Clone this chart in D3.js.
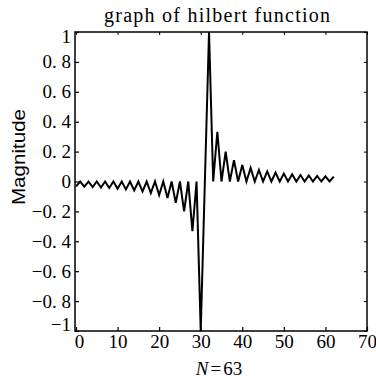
<!DOCTYPE html>
<html>
<head>
<meta charset="utf-8">
<script src="https://cdn.jsdelivr.net/npm/d3@7"></script>
<style>
  body { margin: 0; background: #fff; }
  svg { display: block; }
</style>
</head>
<body>
<svg id="chart" width="376" height="381"></svg>
<script>
// ---- data (sample index 0..62, N = 63) ----
const sampleIndex = d3.range(0, 63);
const magnitude = [
  -0.032, 0, -0.034, 0, -0.037, 0, -0.040, 0, -0.043, 0,
  -0.048, 0, -0.053, 0, -0.059, 0, -0.067, 0, -0.077, 0,
  -0.091, 0, -0.111, 0, -0.143, 0, -0.200, 0, -0.333, 0,
  -1.000, 0, 1.000, 0, 0.333, 0, 0.200, 0, 0.143, 0,
  0.111, 0, 0.091, 0, 0.077, 0, 0.067, 0, 0.059, 0,
  0.053, 0, 0.048, 0, 0.043, 0, 0.040, 0, 0.037, 0,
  0.034, 0, 0.032
];
const xTicks = [0, 10, 20, 30, 40, 50, 60, 70];
const xTickLabels = ["0", "10", "20", "30", "40", "50", "60", "70"];
const yTicks = [1, 0.8, 0.6, 0.4, 0.2, 0, -0.2, -0.4, -0.6, -0.8, -1];
const yTickLabels = ["1", "0. 8", "0. 6", "0. 4", "0. 2", "0", "\u22120. 2", "\u22120. 4", "\u22120. 6", "\u22120. 8", "\u22121"];
const titleText = "graph of hilbert function";
const yLabelText = "Magnitude";

// ---- layout ----
const L = 75, R = 367, T = 32, B = 331;
const svg = d3.select("#chart");
const x = d3.scaleLinear().domain([0, 70]).range([L + 1, R]);
const y = d3.scaleLinear().domain([-1, 1]).range([B, T]);
const serif = "'Liberation Serif', 'DejaVu Serif', serif";

// frame
svg.append("rect")
  .attr("x", L).attr("y", T).attr("width", R - L).attr("height", B - T)
  .attr("fill", "none").attr("stroke", "#000").attr("stroke-width", 1.5);

// bottom axis (inward ticks)
const xAxis = d3.axisBottom(x).tickValues(xTicks)
  .tickSize(-4).tickPadding(3)
  .tickFormat((d, i) => xTickLabels[i]);
const gx = svg.append("g").attr("transform", `translate(0,${B})`).call(xAxis);
gx.select(".domain").remove();
gx.selectAll("line").attr("stroke", "#000").attr("stroke-width", 1.2);
gx.selectAll("text").attr("font-family", serif).attr("font-size", 19).attr("fill", "#000")
  .attr("dx", (d, i) => i === 0 ? 3 : 0);

// top ticks
const gxt = svg.append("g").attr("transform", `translate(0,${T})`)
  .call(d3.axisTop(x).tickValues(xTicks).tickSize(-3).tickFormat(""));
gxt.select(".domain").remove();
gxt.selectAll("line").attr("stroke", "#000");

// left axis
const yAxis = d3.axisLeft(y).tickValues(yTicks)
  .tickSize(-4).tickPadding(4)
  .tickFormat((d, i) => yTickLabels[i]);
const gy = svg.append("g").attr("transform", `translate(${L},0)`).call(yAxis);
gy.select(".domain").remove();
gy.selectAll("line").attr("stroke", "#000").attr("stroke-width", 1.2);
gy.selectAll("text").attr("font-family", serif).attr("font-size", 19).attr("fill", "#000")
  .attr("y", (d, i) => i === 0 ? 4 : (i === yTicks.length - 1 ? -7 : 0));

// right ticks
const gyr = svg.append("g").attr("transform", `translate(${R},0)`)
  .call(d3.axisRight(y).tickValues(yTicks).tickSize(-3).tickFormat(""));
gyr.select(".domain").remove();
gyr.selectAll("line").attr("stroke", "#000");

// data line
const line = d3.line()
  .x((d, i) => x(sampleIndex[i]))
  .y(d => y(d));
svg.append("path")
  .datum(magnitude)
  .attr("d", line)
  .attr("fill", "none")
  .attr("stroke", "#000")
  .attr("stroke-width", 2)
  .attr("stroke-linejoin", "miter");

// title
svg.append("text")
  .attr("x", 217).attr("y", 22)
  .attr("text-anchor", "middle")
  .attr("font-family", serif).attr("font-size", 20)
  .attr("textLength", 226).attr("lengthAdjust", "spacing")
  .text(titleText);

// y label
svg.append("text")
  .attr("transform", "translate(25,157) rotate(-90)")
  .attr("text-anchor", "middle")
  .attr("font-family", "'Liberation Sans', Arial, sans-serif")
  .attr("font-size", 18)
  .attr("textLength", 96).attr("lengthAdjust", "spacingAndGlyphs")
  .text(yLabelText);

// x label: N=63
const xl = svg.append("text")
  .attr("x", 219).attr("y", 375)
  .attr("text-anchor", "middle")
  .attr("font-family", serif).attr("font-size", 19);
xl.append("tspan").attr("font-style", "italic").text("N");
xl.append("tspan").attr("dx", 2).text("=");
xl.append("tspan").attr("dx", 2).text("63");
</script>
</body>
</html>
